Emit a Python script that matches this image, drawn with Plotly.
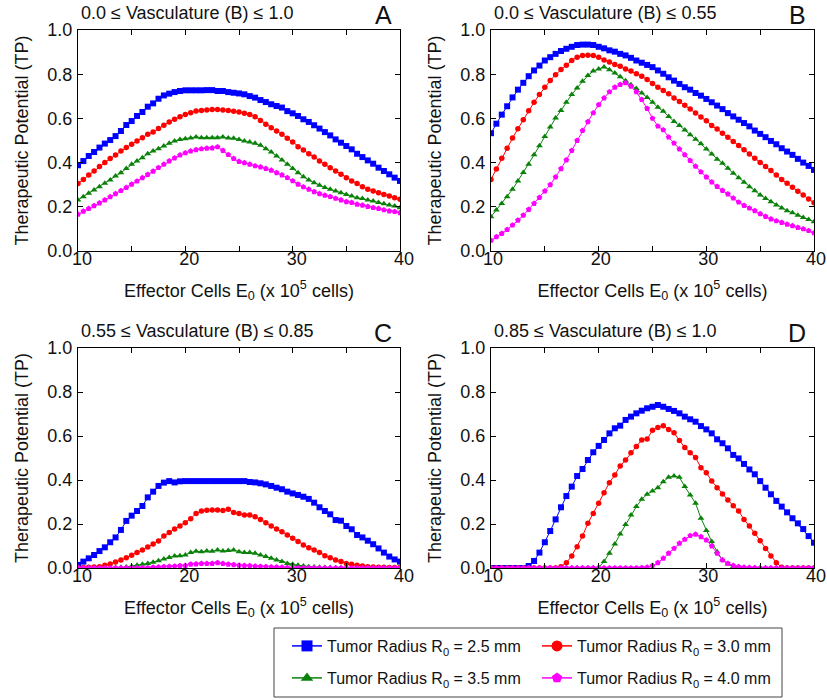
import plotly.graph_objects as go

# ---------------- data ----------------
E0 = [10 + 0.5 * i for i in range(61)]

series_names = ["Tumor Radius R<sub>0</sub> = 2.5 mm", "Tumor Radius R<sub>0</sub> = 3.0 mm",
                "Tumor Radius R<sub>0</sub> = 3.5 mm", "Tumor Radius R<sub>0</sub> = 4.0 mm"]

panel_titles = ["0.0 \u2264 Vasculature (B) \u2264 1.0", "0.0 \u2264 Vasculature (B) \u2264 0.55",
                "0.55 \u2264 Vasculature (B) \u2264 0.85", "0.85 \u2264 Vasculature (B) \u2264 1.0"]
panel_letters = ["A", "B", "C", "D"]

x_tickvals = [10, 20, 30, 40]
x_ticktext = ["10", "20", "30", "40"]
y_tickvals = [0.0, 0.2, 0.4, 0.6, 0.8, 1.0]
y_ticktext = ["0.0", "0.2", "0.4", "0.6", "0.8", "1.0"]

A_r25 = [.388, .407, .430, .448, .468, .486, .502, .520, .543, .570,
         .588, .611, .629, .653, .668, .689, .704, .712, .719, .724,
         .727, .727, .727, .727, .728, .728, .724, .724, .719, .716,
         .713, .709, .701, .694, .683, .674, .664, .656, .649, .633,
         .623, .611, .596, .584, .569, .554, .538, .523, .505, .490,
         .475, .460, .440, .425, .410, .395, .377, .362, .347, .332,
         .317]
A_r30 = [.305, .324, .344, .362, .382, .400, .418, .434, .452, .468,
         .483, .498, .513, .528, .538, .554, .569, .584, .596, .608,
         .618, .626, .633, .636, .638, .640, .640, .638, .636, .632,
         .629, .623, .618, .608, .591, .573, .558, .543, .528, .510,
         .493, .472, .457, .440, .425, .407, .392, .377, .362, .347,
         .332, .317, .305, .291, .279, .271, .264, .256, .249, .241,
         .234]
A_r35 = [.231, .246, .261, .276, .291, .306, .321, .339, .354, .373,
         .392, .407, .422, .440, .452, .463, .475, .487, .498, .505,
         .508, .511, .516, .513, .513, .513, .513, .516, .511, .510,
         .505, .498, .493, .487, .478, .463, .448, .430, .412, .392,
         .373, .354, .336, .321, .309, .297, .287, .279, .271, .264,
         .256, .249, .241, .237, .231, .226, .219, .214, .208, .204,
         .196]
A_r40 = [.166, .180, .192, .205, .217, .231, .245, .259, .273, .287,
         .302, .316, .331, .346, .361, .377, .392, .407, .421, .434,
         .444, .452, .458, .462, .465, .466, .471, .455, .436, .418,
         .405, .399, .392, .385, .380, .373, .365, .354, .344, .332,
         .317, .302, .290, .279, .268, .259, .252, .246, .238, .231,
         .223, .219, .211, .207, .201, .196, .192, .186, .181, .178,
         .173]

B_r25 = [.533, .576, .617, .655, .695, .730, .761, .791, .817, .839,
         .862, .877, .892, .905, .915, .924, .932, .934, .934, .932,
         .924, .917, .908, .902, .892, .885, .874, .862, .852, .842,
         .832, .817, .802, .786, .771, .756, .741, .730, .715, .703,
         .688, .673, .658, .642, .624, .609, .594, .579, .564, .545,
         .530, .515, .498, .483, .465, .450, .435, .417, .400, .385,
         .367]
B_r30 = [.324, .371, .420, .465, .511, .553, .594, .635, .673, .708,
         .741, .771, .798, .821, .841, .862, .877, .885, .886, .885,
         .877, .864, .855, .844, .836, .824, .814, .802, .791, .776,
         .758, .741, .726, .711, .692, .677, .659, .642, .624, .606,
         .589, .568, .552, .533, .515, .495, .477, .458, .439, .420,
         .400, .382, .364, .344, .324, .306, .288, .270, .253, .235,
         .218]
B_r35 = [.155, .185, .215, .245, .279, .317, .355, .392, .435, .476,
         .518, .561, .602, .636, .673, .708, .738, .768, .794, .814,
         .824, .833, .820, .805, .788, .770, .752, .735, .715, .695,
         .673, .650, .632, .609, .586, .568, .548, .526, .506, .485,
         .461, .439, .415, .397, .374, .352, .332, .311, .291, .273,
         .253, .238, .223, .208, .195, .182, .173, .162, .152, .142,
         .132]
B_r40 = [.048, .064, .079, .097, .117, .139, .162, .188, .215, .242,
         .271, .300, .335, .372, .412, .455, .500, .545, .585, .625,
         .662, .692, .720, .741, .753, .761, .745, .720, .685, .645,
         .600, .565, .548, .515, .488, .461, .435, .409, .383, .358,
         .335, .312, .292, .274, .258, .239, .221, .206, .194, .182,
         .168, .156, .145, .136, .129, .121, .114, .106, .100, .092,
         .082]

C_r25 = [.014, .029, .044, .059, .077, .094, .117, .139, .173, .214,
         .238, .259, .282, .321, .347, .373, .388, .395, .389, .394,
         .395, .395, .395, .395, .395, .395, .395, .395, .395, .395,
         .395, .395, .391, .389, .385, .380, .373, .365, .358, .347,
         .339, .332, .324, .314, .297, .276, .259, .244, .218, .215,
         .191, .176, .150, .139, .124, .108, .089, .070, .052, .039,
         .029]
C_r30 = [.002, .002, .003, .005, .006, .012, .018, .027, .036, .047,
         .058, .070, .082, .095, .109, .123, .145, .161, .177, .191,
         .206, .224, .248, .259, .262, .264, .264, .261, .267, .252,
         .248, .241, .241, .233, .221, .206, .191, .177, .165, .150,
         .135, .120, .105, .092, .082, .070, .056, .047, .036, .029,
         .021, .017, .012, .009, .006, .005, .003, .003, .002, .002,
         .002]
C_r35 = [.000, .000, .000, .000, .001, .001, .001, .002, .003, .005,
         .008, .012, .017, .021, .026, .033, .041, .048, .055, .056,
         .059, .070, .076, .074, .077, .076, .082, .077, .079, .082,
         .074, .070, .070, .067, .059, .052, .044, .036, .029, .021,
         .017, .012, .009, .006, .005, .003, .002, .002, .001, .001,
         .000, .000, .000, .000, .000, .000, .000, .000, .000, .000,
         .000]
C_r40 = [.000, .000, .000, .000, .000, .000, .000, .000, .000, .000,
         .000, .000, .000, .001, .003, .004, .006, .007, .008, .010,
         .011, .017, .018, .020, .020, .020, .024, .020, .017, .015,
         .012, .011, .010, .008, .007, .006, .005, .004, .003, .002,
         .000, .000, .000, .000, .000, .000, .000, .000, .000, .000,
         .000, .000, .000, .000, .000, .000, .000, .000, .000, .000,
         .000]

D_r25 = [.000, .000, .000, .000, .000, .000, .000, .009, .032, .070,
         .117, .168, .221, .276, .327, .370, .418, .450, .491, .526,
         .555, .582, .612, .635, .647, .673, .688, .703, .715, .726,
         .733, .741, .733, .723, .714, .703, .688, .676, .665, .645,
         .630, .612, .585, .567, .544, .514, .498, .473, .448, .426,
         .395, .365, .335, .305, .279, .253, .226, .203, .177, .145,
         .115]
D_r30 = [.000, .000, .000, .000, .000, .000, .000, .000, .000, .000,
         .000, .000, .000, .006, .024, .055, .097, .145, .203, .248,
         .294, .342, .388, .423, .464, .491, .524, .552, .582, .586,
         .626, .639, .647, .630, .615, .579, .548, .524, .502, .456,
         .433, .395, .365, .336, .309, .283, .259, .221, .191, .158,
         .124, .089, .055, .024, .003, .000, .000, .000, .000, .000,
         .000]
D_r35 = [.000, .000, .000, .000, .000, .000, .000, .000, .000, .000,
         .000, .000, .000, .000, .000, .000, .000, .000, .000, .000,
         .003, .029, .067, .109, .155, .198, .241, .279, .312, .335,
         .350, .365, .392, .412, .418, .412, .370, .332, .294, .226,
         .170, .120, .074, .036, .018, .006, .002, .000, .000, .000,
         .000, .000, .000, .000, .000, .000, .000, .000, .000, .000,
         .000]
D_r40 = [.000, .000, .000, .000, .000, .000, .000, .000, .000, .000,
         .000, .000, .000, .000, .000, .000, .000, .000, .000, .000,
         .000, .000, .000, .000, .000, .000, .000, .000, .001, .003,
         .011, .024, .044, .067, .089, .112, .130, .147, .153, .142,
         .127, .100, .067, .036, .021, .011, .006, .003, .002, .001,
         .000, .000, .000, .000, .000, .000, .000, .000, .000, .000,
         .000]

panels = [[A_r25, A_r30, A_r35, A_r40],
          [B_r25, B_r30, B_r35, B_r40],
          [C_r25, C_r30, C_r35, C_r40],
          [D_r25, D_r30, D_r35, D_r40]]

# ---------------- style ----------------
W, H = 827, 700
FONT = "Liberation Sans, Arial, Helvetica, sans-serif"
TXT = "#111111"
colors = ["#0000FF", "#FF0000", "#0A820A", "#FF00FF"]
symbols = ["square", "circle", "triangle-up", "pentagon"]
msizes = [6, 5.5, 6, 6]

# plot areas in pixels (left, right, top, bottom)
boxes = [(78, 400, 30, 251), (491, 814, 30, 251),
         (78, 400, 348, 568), (491, 814, 348, 568)]
label_shift = [4, 2, 4, 2]


def px(v):
    return v / W


def py(v):
    return 1 - v / H


fig = go.Figure()

for p, series in enumerate(panels):
    ax = "" if p == 0 else str(p + 1)
    for s, vals in enumerate(series):
        fig.add_trace(go.Scatter(
            x=E0, y=vals, mode="lines+markers",
            xaxis="x" + ax, yaxis="y" + ax,
            line=dict(color=colors[s], width=1),
            marker=dict(symbol=symbols[s], size=msizes[s], color=colors[s],
                        line=dict(width=0)),
            showlegend=False, hoverinfo="skip"))

# legend entries
for s in range(4):
    fig.add_trace(go.Scatter(
        x=[None], y=[None], mode="lines+markers", name=series_names[s],
        line=dict(color=colors[s], width=1.5),
        marker=dict(symbol=symbols[s], size=11, color=colors[s], line=dict(width=0)),
        legend="legend" if s < 2 else "legend2", showlegend=True))

layout = dict(
    width=W, height=H,
    margin=dict(l=0, r=0, t=0, b=0),
    paper_bgcolor="white", plot_bgcolor="white",
    font=dict(family=FONT, size=18, color=TXT),
    annotations=[], shapes=[],
)

for p, (l, r, t, b) in enumerate(boxes):
    ax = "" if p == 0 else str(p + 1)
    layout["xaxis" + ax] = dict(
        domain=[px(l), px(r)], anchor="y" + ax, range=[10, 40],
        tickmode="array", tickvals=x_tickvals, ticktext=x_ticktext,
        ticks="inside", ticklen=5, tickwidth=1, tickcolor="black",
        minor=dict(tickmode="linear", tick0=10, dtick=5, ticks="inside",
                   ticklen=5, tickwidth=1, tickcolor="black", showgrid=False),
        showline=True, linecolor="black", linewidth=1, mirror="ticks",
        showgrid=False, zeroline=False, automargin=False,
        ticklabelstandoff=-9, ticklabelshift=label_shift[p],
        ticklabeloverflow="allow",
        tickfont=dict(size=18, color=TXT),
        title=dict(text="Effector Cells E<sub>0</sub> (x 10<sup>5</sup> cells)",
                   font=dict(size=18, color=TXT), standoff=16),
    )
    layout["yaxis" + ax] = dict(
        domain=[py(b), py(t)], anchor="x" + ax, range=[0, 1],
        tickmode="array", tickvals=y_tickvals, ticktext=y_ticktext,
        ticks="inside", ticklen=5, tickwidth=1, tickcolor="black",
        showline=True, linecolor="black", linewidth=1, mirror="ticks",
        showgrid=False, zeroline=False, automargin=False,
        ticklabelstandoff=1, ticklabeloverflow="allow",
        tickfont=dict(size=18, color=TXT),
        title=dict(text="Therapeutic Potential (TP)",
                   font=dict(size=18, color=TXT), standoff=14),
    )
    layout["annotations"].append(dict(
        text=panel_titles[p], xref="paper", yref="paper",
        x=px(l + 1), y=py(t - 17), xanchor="left", yanchor="middle",
        showarrow=False, font=dict(size=18, color=TXT)))
    layout["annotations"].append(dict(
        text=panel_letters[p], xref="paper", yref="paper",
        x=px(r - 6), y=py(t - 15), xanchor="right", yanchor="middle",
        showarrow=False, font=dict(size=25, color=TXT)))

# legend frame
layout["shapes"].append(dict(type="rect", xref="paper", yref="paper",
                             x0=px(274), x1=px(782), y0=py(697), y1=py(628),
                             line=dict(color="#444444", width=1), fillcolor="rgba(0,0,0,0)"))

leg_common = dict(orientation="h", xanchor="left", yanchor="middle",
                  bgcolor="rgba(0,0,0,0)", borderwidth=0,
                  font=dict(size=16, color=TXT),
                  entrywidth=205, entrywidthmode="pixels",
                  itemwidth=30, tracegroupgap=0)
layout["legend"] = dict(x=px(287), y=py(646), **leg_common)
layout["legend2"] = dict(x=px(287), y=py(678), **leg_common)

fig.update_layout(**layout)
fig.write_html("out.html", config={"displayModeBar": False},
               post_script="document.body.style.margin='0';")
